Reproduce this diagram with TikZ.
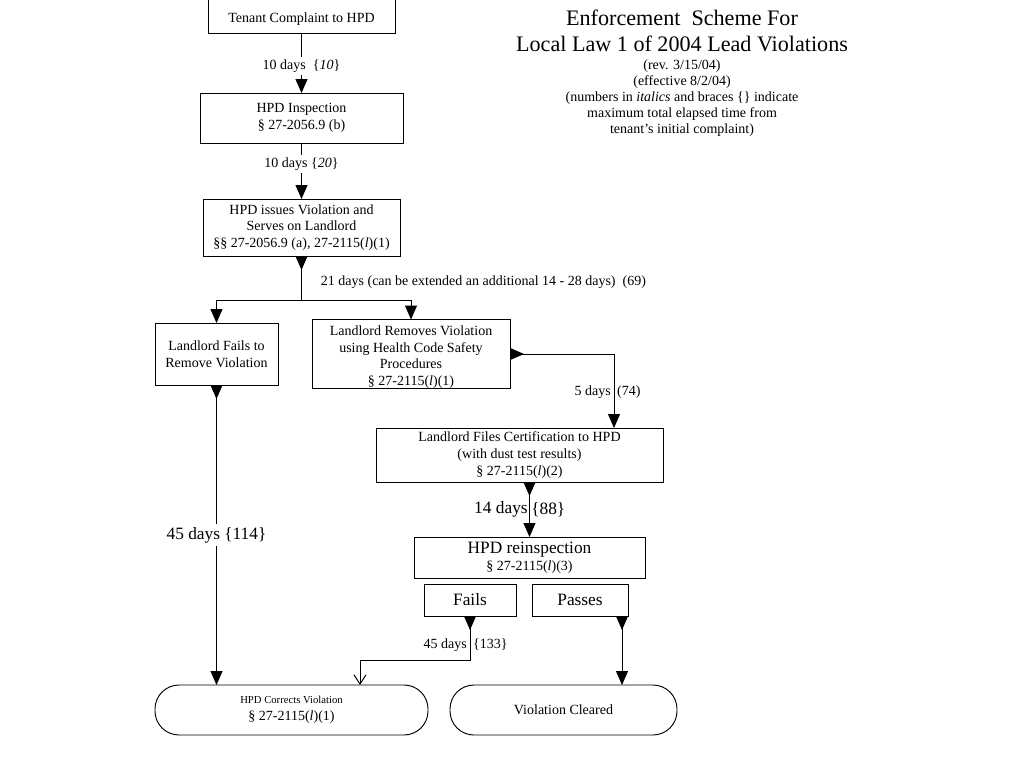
\documentclass[tikz,border=0pt]{standalone}
\usepackage{fontspec}
\setmainfont{Liberation Serif}
\usetikzlibrary{positioning}
\usetikzlibrary{arrows.meta}

\begin{document}
\begin{tikzpicture}[x=0.75pt, y=-0.75pt,
	nosep/.style={inner sep=0pt, outer sep=0pt},
	box/.style={draw=black, line width=0.7pt, fill=white, align=center, nosep, font=\fontsize{10.5}{12.5}\selectfont},
	endbox/.style={box, rounded corners=18pt},
	lbl/.style={font=\fontsize{10.5}{12}\selectfont, inner sep=2pt},
	biglbl/.style={font=\fontsize{13}{15}\selectfont, inner sep=2pt},
	arrow/.style={line width=0.75pt, black, -{Triangle[length=10.5pt, width=9pt]}},
	tail/.style={line width=0.75pt, black, {Triangle[reversed, length=10.5pt, width=9pt]}-},
	tailarrow/.style={line width=0.75pt, black, {Triangle[reversed, length=10.5pt, width=9pt]}-{Triangle[length=10.5pt, width=9pt]}},
	tailopen/.style={line width=0.75pt, black, {Triangle[reversed, length=10.5pt, width=9pt]}-{Straight Barb[length=7pt, width=9pt]}}
]

% Page
\useasboundingbox (0,0) rectangle (1024,768);
\fill[white] (0,0) rectangle (1024,768);

% Title
\node[font=\fontsize{16.6}{19.5}\selectfont, align=center] (title) at (682,31) {Enforcement~~Scheme For\\Local Law 1 of 2004 Lead Violations};
\node[font=\fontsize{10.5}{12}\selectfont, align=center] (note) at (682,98) {(rev. 3/15/04)\\(effective 8/2/04)\\(numbers in \textit{italics} and braces \{\} indicate\\maximum total elapsed time from\\tenant's initial complaint)};

% Boxes
\node[box, minimum width=140.25pt, minimum height=25.5pt] (tenant) at (301.5,16.5) {\rule{0pt}{11pt}Tenant Complaint to HPD};
\node[box, minimum width=152.25pt, minimum height=37.5pt] (insp) at (301.5,118) {HPD Inspection\\§ 27-2056.9 (b)};
\node[box, minimum width=147.75pt, minimum height=42.75pt] (issue) at (301.5,227.5) {HPD issues Violation and\\Serves on Landlord\\§§ 27-2056.9 (a), 27-2115(\textit{l})(1)};
\node[box, minimum width=92.25pt, minimum height=46.5pt] (lfail) at (216.5,354) {Landlord Fails to\\Remove Violation};
\node[box, minimum width=148.5pt, minimum height=49.5pt, font=\fontsize{10.5}{12.5}\selectfont] (remove) at (411,354) {\rule{0pt}{12pt}Landlord Removes Violation\\using Health Code Safety\\Procedures\\§ 27-2115(\textit{l})(1)};
\node[box, minimum width=215.25pt, minimum height=40.5pt] (cert) at (519.5,455) {Landlord Files Certification to HPD\\(with dust test results)\\§ 27-2115(\textit{l})(2)};
\node[box, minimum width=173.25pt, minimum height=30.75pt] (reinsp) at (529.5,557.5) {{\fontsize{13}{15}\selectfont HPD reinspection}\\§ 27-2115(\textit{l})(3)};
\node[box, minimum width=69pt, minimum height=24pt, font=\fontsize{13}{15}\selectfont] (failsbox) at (470,600) {Fails};
\node[box, minimum width=72pt, minimum height=24pt, font=\fontsize{13}{15}\selectfont] (passbox) at (580,600) {Passes};
\node[endbox, minimum width=204.75pt, minimum height=37.5pt] (corrects) at (291.5,710) {{\fontsize{8}{10}\selectfont HPD Corrects Violation}\\§ 27-2115(\textit{l})(1)};
\node[endbox, minimum width=170.25pt, minimum height=37.5pt] (cleared) at (563.5,710) {Violation Cleared};

% Connectors
\draw[arrow] (tenant) -- node[lbl, fill=white, pos=0.55] {10 days~~\{\textit{10}\}} (insp);
\draw[arrow] (insp) -- node[lbl, fill=white, pos=0.38] {10 days \{\textit{20}\}} (issue);

\coordinate (split) at (301.5,300);
\draw[tail] (issue) -- (split);
\draw[arrow] (split) -| (lfail);
\draw[arrow] (split) -| (remove);
\node[lbl, anchor=west] (extend) at (318,282) {21 days (can be extended an additional 14 - 28 days)~~(69)};

\coordinate (turn5) at (614,354);
\draw[tailarrow] (remove) -- (turn5) -- node[lbl, pos=0.52, left] {5 days} node[lbl, pos=0.52, right] {(74)} (turn5 |- cert.north);

\draw[tailarrow] (reinsp.north |- cert.south) -- node[biglbl, left, inner sep=1pt] {14 days} node[biglbl, right, inner sep=1pt] {\{88\}} (reinsp.north);

\coordinate (turnf) at (470,660);
\coordinate (turnc) at (360,660);
\draw[tailopen] (failsbox) -- node[lbl, pos=0.66, left] {45 days} node[lbl, pos=0.66, right] {\{133\}} (turnf) -- (turnc) -- (turnc |- corrects.north);

\path ([xshift=-4.5pt]passbox.south east) coordinate (passout);
\draw[tailarrow] (passout) -- (passout |- cleared.north);

\draw[tailarrow] (lfail) -- node[biglbl, fill=white] {45 days \{114\}} (lfail.south |- corrects.north);

\end{tikzpicture}
\end{document}
